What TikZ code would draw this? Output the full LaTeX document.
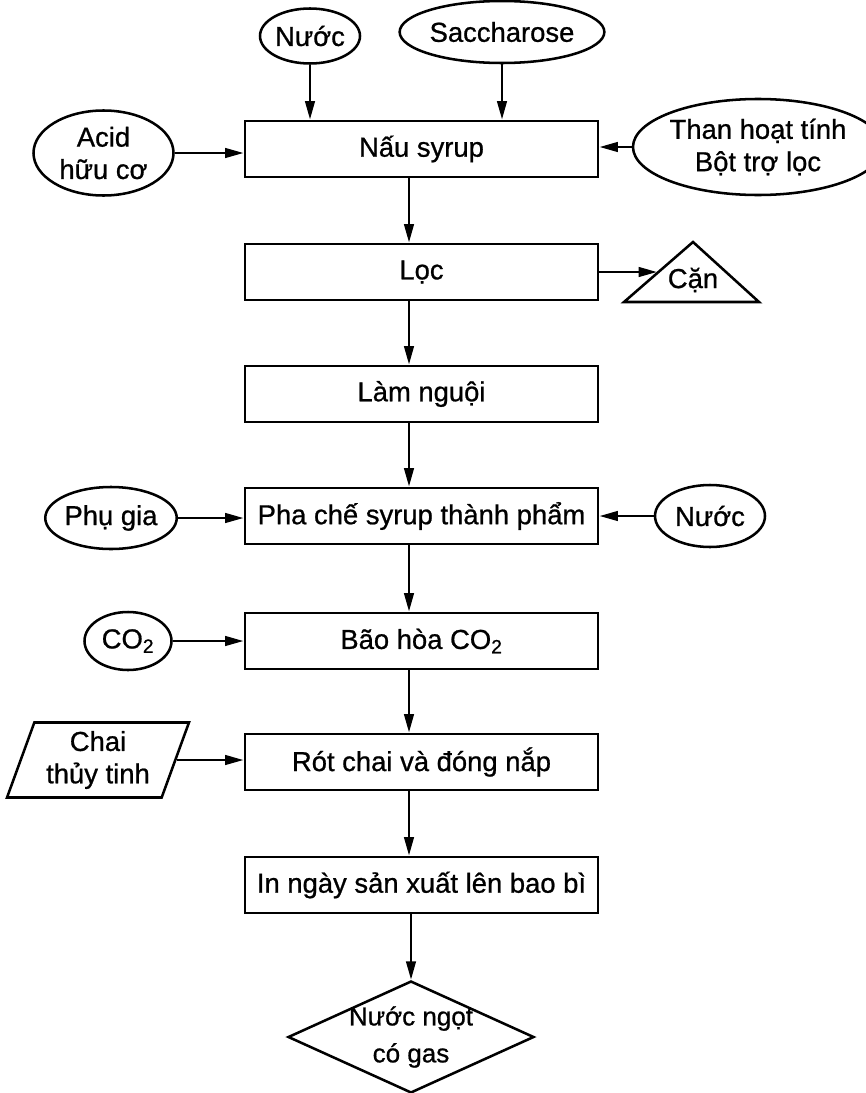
\documentclass[tikz,border=0pt]{standalone}
\usepackage{fontspec}
\setmainfont{Liberation Sans}[FakeBold=0.8]
\usetikzlibrary{shapes.geometric,arrows.meta}
\tikzset{
	procbox/.style={draw,line width=2.1pt,minimum width=88.25mm,minimum height=14mm,inner sep=0pt},
	inell/.style={draw,ellipse,line width=1.8pt,inner sep=0pt,align=center},
	flow/.style={line width=1.7pt,-{Triangle[length=4.6mm,width=2.4mm]}}
}
\begin{document}
\begin{tikzpicture}[x=0.25mm,y=-0.25mm,font=\fontsize{19.5}{23}\selectfont]
	\useasboundingbox (0,0) rectangle (865,1093);
	\coordinate (col) at (409,0);
	% main line
	\node[procbox] (nau) at (421.5,149) {Nấu syrup};
	\node[procbox] (loc) at (421.5,272) {Lọc};
	\node[procbox] (lamng) at (421.5,394) {Làm nguội};
	\node[procbox] (pha) at (421.5,516) {Pha chế syrup thành phẩm};
	\node[procbox] (baohoa) at (421.5,641) {Bão hòa CO\textsubscript{2}};
	\node[procbox] (rot) at (421.5,762) {Rót chai và đóng nắp};
	\node[procbox] (inngay) at (421.5,885) {In ngày sản xuất lên bao bì};
	\node[draw,diamond,aspect=2.2,line width=1.8pt,inner sep=-1mm,minimum width=61.5mm,minimum height=28mm,align=center,
		font=\fontsize{18.5}{22}\selectfont] (sanpham) at (411,1037) {Nước ngọt\\[1.5mm]có gas};
	% inputs
	\node[inell,minimum width=25mm,minimum height=13.75mm] (nuoca) at (310,36) {Nước};
	\node[inell,minimum width=45.75mm,minimum height=15.5mm] (sacch) at (502,32) {Saccharose};
	\node[inell,minimum width=35mm,minimum height=21.25mm] (acid) at (103.5,153) {Acid\\hữu cơ};
	\node[inell,minimum width=53.75mm,minimum height=24mm] (than) at (758,147) {Than hoạt tính\\Bột trợ lọc};
	\node[inell,minimum width=30.5mm,minimum height=15.5mm] (phugia) at (111,518) {Phụ gia};
	\node[inell,minimum width=27.5mm,minimum height=15.5mm] (nuocb) at (710,516) {Nước};
	\node[inell,minimum width=21.75mm,minimum height=14.5mm] (co2) at (128,641) {CO\textsubscript{2}};
	\node[draw,trapezium,trapezium left angle=69,trapezium right angle=111,trapezium stretches=true,line width=1.8pt,
		minimum width=45.5mm,minimum height=18.75mm,inner sep=0pt,align=center] (chai) at (98,760) {Chai\\thủy tinh};
	% residue
	\draw[line width=1.8pt,line join=miter] (624,302) -- (693,242) -- (759,302) -- cycle;
	\node (can) at (693,280) {Cặn};
	\coordinate (cantip) at (657,272);
	% connectors
	\foreach \a/\b in {nau/loc,loc/lamng,lamng/pha,pha/baohoa,baohoa/rot,rot/inngay}
		\draw[flow] (\a.south -| col) -- (\b.north -| col);
	\draw[flow] (inngay.south -| sanpham.north) -- (sanpham.north);
	\draw[flow] (nuoca) -- (nuoca |- nau.north);
	\draw[flow] (sacch) -- (sacch |- nau.north);
	\draw[flow] (acid.east) -- (acid.east -| nau.west);
	\draw[flow] (than.west) -- (than.west -| nau.east);
	\draw[flow] (loc.east) -- (cantip);
	\draw[flow] (phugia.east) -- (phugia.east -| pha.west);
	\draw[flow] (nuocb.west) -- (nuocb.west -| pha.east);
	\draw[flow] (co2.east) -- (co2.east -| baohoa.west);
	\draw[flow] (chai.east) -- (chai.east -| rot.west);
\end{tikzpicture}
\end{document}
